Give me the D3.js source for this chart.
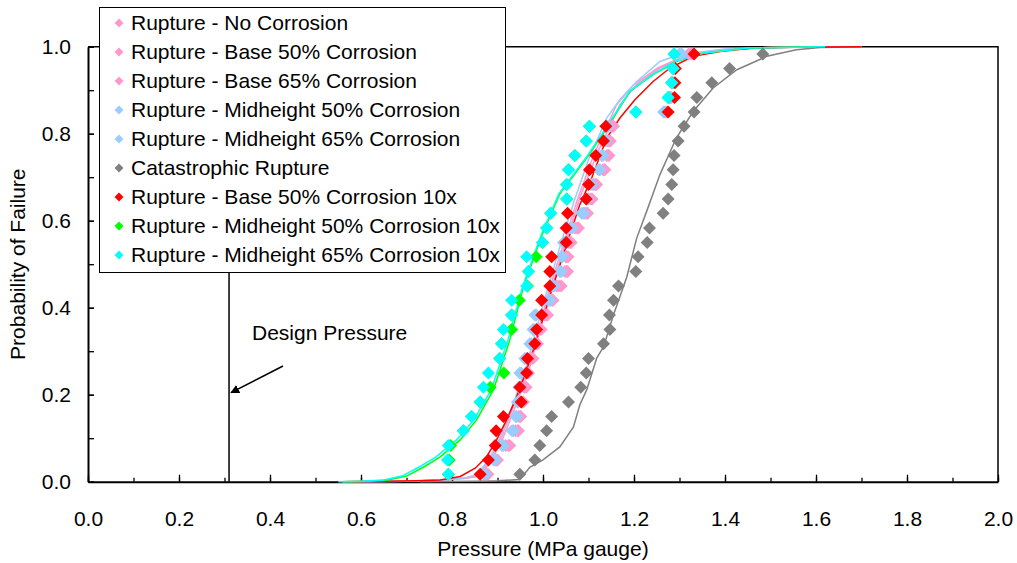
<!DOCTYPE html>
<html>
<head>
<meta charset="utf-8">
<script src="https://cdn.jsdelivr.net/npm/d3@7"></script>
<style>
  body { margin: 0; background: #fff; }
  text { font-family: "Liberation Sans", Arial, sans-serif; fill: #000; }
</style>
</head>
<body>
<script>
var w = 1017, h = 563;
var margin = {left: 88, right: 19, top: 46.7, bottom: 81.3};
var fontSize = "21px";

// plotting positions of the 30 sorted samples
var probLevels = [0.017, 0.050, 0.083, 0.117, 0.150, 0.183, 0.217, 0.250, 0.283, 0.317,
                  0.350, 0.383, 0.417, 0.450, 0.483, 0.517, 0.550, 0.583, 0.617, 0.650,
                  0.683, 0.717, 0.750, 0.783, 0.817, 0.850, 0.883, 0.917, 0.950, 0.983];

// sample pressures (MPa) per series
var noCorrosion = [0.876, 0.898, 0.924, 0.946, 0.951, 0.955, 0.960, 0.967, 0.975, 0.985,
                   0.993, 1.008, 1.020, 1.035, 1.052, 1.052, 1.060, 1.075, 1.096, 1.105,
                   1.115, 1.136, 1.143, 1.146, 1.155, 1.270, 1.280, 1.284, 1.287, 1.330];
var base50 = [0.872, 0.893, 0.918, 0.940, 0.947, 0.953, 0.958, 0.962, 0.972, 0.981,
              0.990, 1.004, 1.016, 1.030, 1.048, 1.050, 1.057, 1.070, 1.092, 1.100,
              1.112, 1.132, 1.140, 1.143, 1.150, 1.268, 1.278, 1.283, 1.286, 1.320];
var base65 = [0.879, 0.900, 0.927, 0.944, 0.950, 0.957, 0.963, 0.968, 0.978, 0.988,
              0.996, 1.010, 1.022, 1.040, 1.054, 1.055, 1.062, 1.078, 1.098, 1.108,
              1.118, 1.134, 1.145, 1.148, 1.152, 1.272, 1.282, 1.286, 1.288, 1.325];
var mid50 = [0.873, 0.895, 0.913, 0.935, 0.942, 0.945, 0.949, 0.949, 0.960, 0.971,
             0.978, 0.982, 1.015, 1.020, 1.037, 1.043, 1.045, 1.060, 1.085, 1.095,
             1.105, 1.122, 1.129, 1.135, 1.140, 1.265, 1.278, 1.283, 1.286, 1.300];
var mid65 = [0.870, 0.892, 0.910, 0.932, 0.940, 0.944, 0.947, 0.952, 0.963, 0.974,
             0.980, 0.985, 1.012, 1.024, 1.040, 1.041, 1.048, 1.064, 1.089, 1.098,
             1.108, 1.125, 1.132, 1.138, 1.143, 1.266, 1.279, 1.284, 1.287, 1.305];
var catastrophic = [0.949, 0.982, 0.993, 1.008, 1.019, 1.056, 1.083, 1.095, 1.100, 1.133,
                    1.147, 1.146, 1.155, 1.166, 1.204, 1.209, 1.229, 1.234, 1.264, 1.275,
                    1.283, 1.286, 1.288, 1.297, 1.310, 1.332, 1.338, 1.371, 1.410, 1.483];
var base50x10 = [0.862, 0.880, 0.895, 0.897, 0.913, 0.952, 0.949, 0.964, 0.966, 0.982,
                 0.986, 0.997, 0.997, 1.015, 1.015, 1.019, 1.051, 1.051, 1.054, 1.095,
                 1.100, 1.102, 1.116, 1.133, 1.138, 1.275, 1.289, 1.290, 1.291, 1.332];
var mid50x10 = [0.792, 0.794, 0.797, 0.825, 0.843, 0.862, 0.884, 0.914, 0.905, 0.909,
                0.931, 0.931, 0.948, 0.966, 0.968, 0.985, 0.999, 1.008, 1.017, 1.052,
                1.052, 1.056, 1.070, 1.095, 1.102, 1.204, 1.275, 1.283, 1.286, 1.288];
var mid65x10 = [0.792, 0.790, 0.792, 0.825, 0.843, 0.862, 0.869, 0.880, 0.905, 0.909,
                0.913, 0.931, 0.931, 0.964, 0.968, 0.964, 0.999, 1.008, 1.017, 1.052,
                1.052, 1.056, 1.070, 1.095, 1.102, 1.204, 1.275, 1.283, 1.286, 1.288];

// fitted curves (pressure, probability)
var pinkLineP = [0.56, 0.70, 0.78, 0.83, 0.854, 0.884, 0.913, 0.942, 0.971, 0.993, 1.020,
                 1.050, 1.080, 1.118, 1.169, 1.206, 1.257, 1.316, 1.400, 1.500, 1.700];
var pinkLineF = [0, 0.001, 0.004, 0.008, 0.012, 0.042, 0.103, 0.180, 0.264, 0.349, 0.450,
                 0.550, 0.650, 0.752, 0.867, 0.913, 0.951, 0.978, 0.993, 0.998, 1.0];
var pinkLine2P = [0.56, 0.70, 0.78, 0.83, 0.850, 0.880, 0.909, 0.938, 0.967, 0.990, 1.016,
                  1.046, 1.076, 1.112, 1.162, 1.200, 1.252, 1.310, 1.390, 1.490, 1.700];
var blueLineP = [0.56, 0.70, 0.78, 0.83, 0.850, 0.878, 0.905, 0.935, 0.963, 0.985, 1.012,
                 1.040, 1.070, 1.100, 1.140, 1.170, 1.206, 1.257, 1.300, 1.400, 1.550, 1.700];
var blueLineF = [0, 0.001, 0.004, 0.009, 0.015, 0.045, 0.100, 0.180, 0.265, 0.350, 0.450,
                 0.550, 0.650, 0.740, 0.836, 0.880, 0.920, 0.966, 0.982, 0.995, 0.999, 1.0];
var grayLineP = [0.73, 0.85, 0.90, 0.949, 0.971, 1.000, 1.037, 1.067, 1.081, 1.096, 1.118,
                 1.133, 1.155, 1.184, 1.206, 1.228, 1.257, 1.293, 1.330, 1.374, 1.426,
                 1.492, 1.557, 1.609, 1.700];
var grayLineF = [0, 0.001, 0.002, 0.005, 0.033, 0.050, 0.080, 0.126, 0.177, 0.211, 0.284,
                 0.310, 0.384, 0.470, 0.560, 0.622, 0.706, 0.790, 0.851, 0.905, 0.947,
                 0.978, 0.993, 0.998, 1.0];
var redLineP = [0.554, 0.65, 0.72, 0.774, 0.818, 0.851, 0.876, 0.898, 0.920, 0.942, 0.964,
                0.986, 1.023, 1.052, 1.081, 1.107, 1.140, 1.169, 1.202, 1.242, 1.279,
                1.330, 1.389, 1.462, 1.550, 1.700];
var redLineF = [0, 0.001, 0.002, 0.004, 0.012, 0.031, 0.057, 0.096, 0.142, 0.195, 0.257,
                0.326, 0.453, 0.545, 0.637, 0.698, 0.790, 0.836, 0.878, 0.920, 0.951,
                0.978, 0.989, 0.997, 0.999, 1.0];
var greenLineP = [0.56, 0.62, 0.66, 0.70, 0.74, 0.774, 0.818, 0.854, 0.891, 0.927, 0.957,
                  0.997, 1.037, 1.096, 1.140, 1.191, 1.242, 1.293, 1.352, 1.450, 1.600];
var greenLineF = [0, 0.001, 0.004, 0.013, 0.035, 0.057, 0.096, 0.142, 0.211, 0.326, 0.448,
                  0.565, 0.662, 0.744, 0.813, 0.897, 0.936, 0.966, 0.985, 0.997, 1.0];
var cyanLineP = [0.55, 0.60, 0.65, 0.69, 0.73, 0.765, 0.810, 0.848, 0.886, 0.923, 0.955,
                 0.995, 1.035, 1.094, 1.138, 1.190, 1.240, 1.290, 1.350, 1.450, 1.620];

var seriesNames = ["Rupture - No Corrosion", "Rupture - Base 50% Corrosion",
                   "Rupture - Base 65% Corrosion", "Rupture - Midheight 50% Corrosion",
                   "Rupture - Midheight 65% Corrosion", "Catastrophic Rupture",
                   "Rupture - Base 50% Corrosion 10x", "Rupture - Midheight 50% Corrosion 10x",
                   "Rupture - Midheight 65% Corrosion 10x"];
var seriesColors = ["#FF99CC", "#FF99CC", "#FF99CC", "#99CCFF", "#99CCFF",
                    "#808080", "#FF0000", "#00FF00", "#00FFFF"];
var seriesValues = [noCorrosion, base50, base65, mid50, mid65,
                    catastrophic, base50x10, mid50x10, mid65x10];

var lines = [
  {p: pinkLineP, f: pinkLineF, color: "#FF99CC"},
  {p: pinkLine2P, f: pinkLineF, color: "#FF99CC"},
  {p: blueLineP, f: blueLineF, color: "#99CCFF"},
  {p: grayLineP, f: grayLineF, color: "#808080"},
  {p: redLineP, f: redLineF, color: "#FF0000"},
  {p: greenLineP, f: greenLineF, color: "#00FF00"},
  {p: cyanLineP, f: greenLineF, color: "#00FFFF"}
];

var designPressure = 0.31;

var x = d3.scaleLinear().domain([0, 2]).range([margin.left, w - margin.right]);
var y = d3.scaleLinear().domain([0, 1]).range([h - margin.bottom, margin.top]);

var svg = d3.select("body").append("svg")
    .attr("width", w)
    .attr("height", h);

// plot frame (top and right)
svg.append("path")
    .attr("d", "M" + x(0) + "," + y(1) + "H" + x(2) + "V" + y(0))
    .attr("fill", "none")
    .attr("stroke", "#000")
    .attr("stroke-width", 1.5);

// minor ticks
svg.append("g")
    .attr("transform", "translate(0," + y(0) + ")")
    .call(d3.axisBottom(x).tickValues(d3.range(0, 2.01, 0.1)).tickSize(-4).tickFormat(""))
    .call(function(g) { g.select(".domain").remove(); g.selectAll("line").attr("stroke-width", 1.3); });
svg.append("g")
    .attr("transform", "translate(" + x(0) + ",0)")
    .call(d3.axisLeft(y).tickValues(d3.range(0, 1.01, 0.1)).tickSize(-6).tickFormat(""))
    .call(function(g) { g.select(".domain").remove(); g.selectAll("line").attr("stroke-width", 1.3); });

// major axes
var xAxis = svg.append("g")
    .attr("transform", "translate(0," + y(0) + ")")
    .call(d3.axisBottom(x).tickValues(d3.range(0, 2.01, 0.2)).tickSizeInner(-7).tickSizeOuter(0)
          .tickPadding(29).tickFormat(d3.format(".1f")));
var yAxis = svg.append("g")
    .attr("transform", "translate(" + x(0) + ",0)")
    .call(d3.axisLeft(y).tickValues(d3.range(0, 1.01, 0.2)).tickSizeInner(-6).tickSizeOuter(0)
          .tickPadding(17).tickFormat(d3.format(".1f")));
[xAxis, yAxis].forEach(function(g) {
  g.select(".domain").attr("stroke-width", 2);
  g.selectAll("line").attr("stroke-width", 1.3);
  g.selectAll("text").attr("font-size", fontSize).attr("font-family", "Liberation Sans, Arial, sans-serif");
});

// axis titles
svg.append("text")
    .attr("x", x(1)).attr("y", 556)
    .attr("text-anchor", "middle")
    .attr("font-size", fontSize)
    .text("Pressure (MPa gauge)");
svg.append("text")
    .attr("transform", "translate(25," + ((y(0) + y(1)) / 2) + ") rotate(-90)")
    .attr("text-anchor", "middle")
    .attr("font-size", fontSize)
    .text("Probability of Failure");

// design pressure line and annotation
svg.append("line")
    .attr("x1", x(designPressure)).attr("x2", x(designPressure))
    .attr("y1", y(0)).attr("y2", y(1))
    .attr("stroke", "#000").attr("stroke-width", 1.5);

svg.append("defs").append("marker")
    .attr("id", "arrow")
    .attr("viewBox", "0 0 10 10")
    .attr("refX", 9).attr("refY", 5)
    .attr("markerWidth", 9).attr("markerHeight", 9)
    .attr("markerUnits", "userSpaceOnUse")
    .attr("orient", "auto")
    .append("path").attr("d", "M0,0L10,5L0,10Z").attr("fill", "#000");

svg.append("line")
    .attr("x1", 283).attr("y1", 366)
    .attr("x2", x(designPressure) + 2).attr("y2", y(0.2) - 2)
    .attr("stroke", "#000").attr("stroke-width", 1.5)
    .attr("marker-end", "url(#arrow)");
svg.append("text")
    .attr("x", 252).attr("y", 340)
    .attr("font-size", fontSize)
    .text("Design Pressure");

// fitted curves
var line = d3.line()
    .x(function(d) { return x(d[0]); })
    .y(function(d) { return y(d[1]); });

svg.selectAll(".fit")
    .data(lines)
    .enter()
    .append("path")
    .attr("class", "fit")
    .attr("d", function(d) { return line(d3.zip(d.p, d.f)); })
    .attr("fill", "none")
    .attr("stroke", function(d) { return d.color; })
    .attr("stroke-width", 1.5);

// sample markers
function diamond(s) {
  return "M0," + (-s) + "L" + s + ",0L0," + s + "L" + (-s) + ",0Z";
}

seriesValues.forEach(function(vals, i) {
  svg.append("g")
      .selectAll("path")
      .data(d3.zip(vals, probLevels))
      .enter()
      .append("path")
      .attr("transform", function(d) { return "translate(" + x(d[0]) + "," + y(d[1]) + ")"; })
      .attr("d", diamond(6.5))
      .attr("fill", seriesColors[i]);
});

// legend
var legend = svg.append("g").attr("transform", "translate(99,7)");
legend.append("rect")
    .attr("x", 0.5).attr("y", 0.5)
    .attr("width", 406).attr("height", 265)
    .attr("fill", "#fff")
    .attr("stroke", "#000")
    .attr("stroke-width", 1);

var items = legend.selectAll(".item")
    .data(seriesNames)
    .enter()
    .append("g")
    .attr("transform", function(d, i) { return "translate(0," + (16 + i * 29) + ")"; });
items.append("path")
    .attr("transform", "translate(20,0)")
    .attr("d", diamond(4.5))
    .attr("fill", function(d, i) { return seriesColors[i]; });
items.append("text")
    .attr("x", 32)
    .attr("y", 7)
    .attr("font-size", fontSize)
    .text(function(d) { return d; });
</script>
</body>
</html>
